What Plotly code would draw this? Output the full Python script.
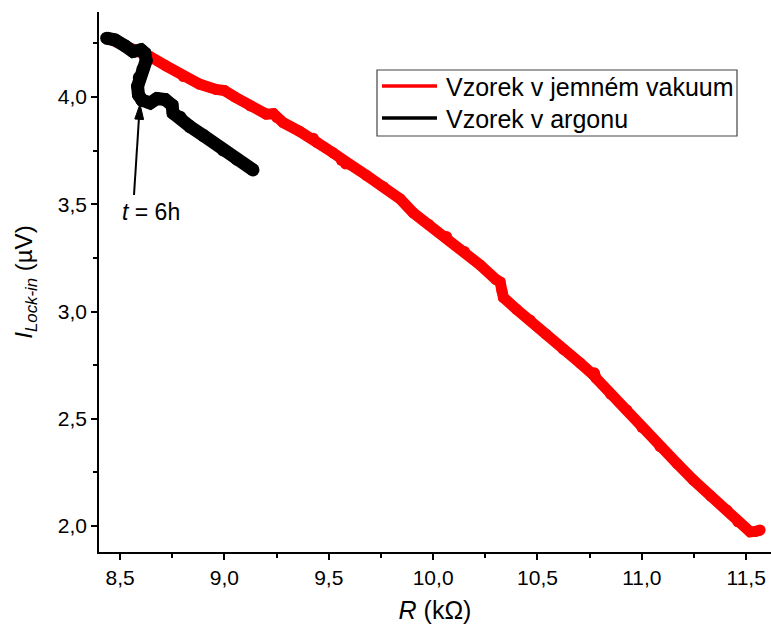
import plotly.graph_objects as go

# ---- data ----
vac_R = [8.438, 8.52, 8.644, 8.72, 8.803, 8.88, 8.96, 9.00, 9.05, 9.123, 9.20, 9.235, 9.25,
         9.282, 9.36, 9.426, 9.443, 9.52, 9.56, 9.58, 9.602, 9.68, 9.762, 9.842, 9.905,
         9.98, 10.065, 10.15, 10.225, 10.30, 10.321, 10.33, 10.337, 10.40, 10.465, 10.54,
         10.624, 10.704, 10.768, 10.772, 10.78, 10.85, 10.928, 11.00, 11.087, 11.17,
         11.247, 11.33, 11.407, 11.46, 11.519, 11.545, 11.567]
vac_I = [4.275, 4.245, 4.188, 4.145, 4.095, 4.06, 4.035, 4.030, 4.00, 3.958, 3.92, 3.922, 3.905,
         3.880, 3.84, 3.808, 3.788, 3.74, 3.705, 3.688, 3.685, 3.635, 3.582, 3.525, 3.460,
         3.405, 3.349, 3.28, 3.217, 3.150, 3.138, 3.095, 3.065, 3.010, 2.960, 2.895,
         2.823, 2.760, 2.705, 2.715, 2.69, 2.615, 2.541, 2.46, 2.370, 2.29,
         2.214, 2.14, 2.075, 2.02, 1.973, 1.975, 1.981]

ar_R = [8.436, 8.476, 8.524, 8.562, 8.600, 8.618, 8.625, 8.610, 8.592, 8.584, 8.588, 8.605,
        8.644, 8.677, 8.716, 8.749, 8.754, 8.788, 8.835, 8.90, 8.994, 9.06, 9.137]
ar_I = [4.274, 4.266, 4.238, 4.212, 4.220, 4.205, 4.17, 4.13, 4.09, 4.05, 4.010, 3.985,
        3.972, 3.993, 3.988, 3.962, 3.925, 3.905, 3.862, 3.82, 3.753, 3.71, 3.660]

series_names = ["Vzorek v jemném vakuum", "Vzorek v argonu"]
x_ticks = [8.5, 9.0, 9.5, 10.0, 10.5, 11.0, 11.5]
y_ticks = [2.0, 2.5, 3.0, 3.5, 4.0]
x_title = "<i>R</i> (kΩ)"
y_title = "<i>I</i><sub><i>Lock-in</i></sub> (µV)"

FONT = "Liberation Sans, Arial, sans-serif"

fig = go.Figure()
fig.add_trace(go.Scatter(x=vac_R, y=vac_I, mode="lines+markers", name=series_names[0],
                         line=dict(color="#ff0000", width=11),
                         marker=dict(color="#ff0000", size=11), showlegend=False))
fig.add_trace(go.Scatter(x=ar_R, y=ar_I, mode="lines+markers", name=series_names[1],
                         line=dict(color="#000000", width=13),
                         marker=dict(color="#000000", size=13), showlegend=False))

W, H = 771, 626
L, R_, T, B = 99, 0, 12, 74
pw, ph = W - L - R_, H - T - B

def px(xp):
    return (xp - L) / pw

def py(yp):
    return (H - B - yp) / ph

axis_common = dict(showline=True, linecolor="black", linewidth=1.6, mirror=False,
                   ticks="outside", ticklen=6, tickwidth=1.6, tickcolor="black",
                   showgrid=False, zeroline=False, tickformat=".1f", automargin=False,
                   tickfont=dict(family=FONT, size=21, color="black"))

fig.update_layout(
    width=W, height=H,
    margin=dict(l=L, r=R_, t=T, b=B, pad=0),
    plot_bgcolor="white", paper_bgcolor="white",
    separators=",.",
    font=dict(family=FONT, color="black"),
    xaxis=dict(range=[8.399, 11.619], tickvals=x_ticks,
               title=dict(text=x_title, standoff=13,
                          font=dict(family=FONT, size=25, color="black")),
               minor=dict(ticks="outside", ticklen=4, tickwidth=1.6, tickcolor="black",
                          dtick=0.25, tick0=8.5),
               **axis_common),
    yaxis=dict(range=[1.879, 4.396], tickvals=y_ticks,
               title=dict(text=y_title, standoff=18,
                          font=dict(family=FONT, size=24, color="black")),
               minor=dict(ticks="outside", ticklen=4, tickwidth=1.6, tickcolor="black",
                          dtick=0.25, tick0=2.0),
               **axis_common),
    showlegend=False,
)

# custom legend
fig.add_shape(type="rect", xref="paper", yref="paper",
              x0=px(377), x1=px(737), y0=py(136), y1=py(70),
              line=dict(color="#444444", width=1.2), fillcolor="white", layer="above")
legend_colors = ["#ff0000", "#000000"]
legend_y = [86, 118]
for name, col, yy in zip(series_names, legend_colors, legend_y):
    fig.add_shape(type="line", xref="paper", yref="paper",
                  x0=px(382), x1=px(437), y0=py(yy), y1=py(yy),
                  line=dict(color=col, width=3.5), layer="above")
    fig.add_annotation(xref="paper", yref="paper", x=px(444), y=py(yy + 1),
                       text=name, showarrow=False, xanchor="left", yanchor="middle",
                       font=dict(family=FONT, size=25, color="black"))

# arrow (shaft + head) pointing at t = 6h
tip_x, tip_y = 140, 104
tail_x, tail_y = 134, 195
fig.add_shape(type="line", xref="paper", yref="paper",
              x0=px(tail_x), y0=py(tail_y), x1=px(139.1), y1=py(116),
              line=dict(color="black", width=2))
head = "M {},{} L {},{} L {},{} Z".format(
    px(tip_x), py(tip_y), px(134.8), py(119), px(143.6), py(119.6))
fig.add_shape(type="path", xref="paper", yref="paper", path=head,
              fillcolor="black", line=dict(color="black", width=1))
fig.add_annotation(x=8.649, y=3.464, xref="x", yref="y",
                   text="<i>t</i> = 6h", showarrow=False,
                   font=dict(family=FONT, size=23, color="black"),
                   xanchor="center", yanchor="middle")

fig.write_html("out.html")
